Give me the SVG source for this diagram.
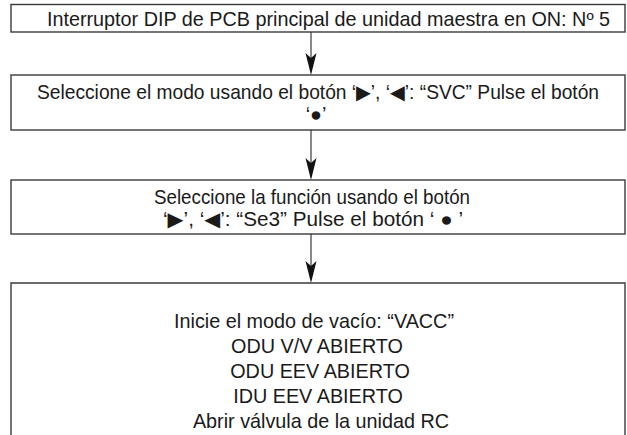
<svg xmlns="http://www.w3.org/2000/svg" width="627" height="435" viewBox="0 0 627 435">
  <style>
    .box { fill: #ffffff; stroke: #3a3a3a; stroke-width: 1.4; }
    .t { font-family: "Liberation Sans", Arial, "DejaVu Sans", sans-serif; font-size: 19.8px; fill: #1a1a1a; text-anchor: middle; }
    .edge { stroke: #3a3a3a; stroke-width: 1.2; fill: none; }
    .head { fill: #111111; }
  </style>
  <rect width="627" height="435" fill="#ffffff"/>
  <g id="connectors">
    <line class="edge" x1="311" y1="32" x2="311" y2="70"/>
    <path class="head" d="M305.5,53 L311,58 L316.5,53 L311,75 Z"/>
    <line class="edge" x1="311" y1="130" x2="311" y2="175"/>
    <path class="head" d="M305.5,158 L311,163 L316.5,158 L311,180 Z"/>
    <line class="edge" x1="311" y1="234" x2="311" y2="278"/>
    <path class="head" d="M305.5,261 L311,266 L316.5,261 L311,283 Z"/>
  </g>
  <g id="node1">
    <rect class="box" x="11" y="4.5" width="614" height="27.5"/>
    <text class="t" x="328.5" y="26">Interruptor DIP de PCB principal de unidad maestra en ON: Nº 5</text>
  </g>
  <g id="node2">
    <rect class="box" x="11" y="75" width="614" height="55"/>
    <text class="t" x="318" y="99" textLength="562" lengthAdjust="spacingAndGlyphs">Seleccione el modo usando el botón ‘▶’, ‘◀’: “SVC” Pulse el botón</text>
    <text class="t" x="316" y="121">‘●’</text>
  </g>
  <g id="node3">
    <rect class="box" x="11" y="180" width="614" height="54"/>
    <text class="t" x="312" y="204" textLength="316" lengthAdjust="spacingAndGlyphs">Seleccione la función usando el botón</text>
    <text class="t" x="313" y="226" textLength="300" lengthAdjust="spacingAndGlyphs">‘▶’, ‘◀’: “Se3” Pulse el botón ‘ ● ’</text>
  </g>
  <g id="node4">
    <path class="box" d="M11,436 V283 H625 V436"/>
    <text class="t" x="314" y="328">Inicie el modo de vacío: “VACC”</text>
    <text class="t" x="317" y="353">ODU V/V ABIERTO</text>
    <text class="t" x="320" y="378">ODU EEV ABIERTO</text>
    <text class="t" x="318" y="403">IDU EEV ABIERTO</text>
    <text class="t" x="321" y="428">Abrir válvula de la unidad RC</text>
  </g>
</svg>
